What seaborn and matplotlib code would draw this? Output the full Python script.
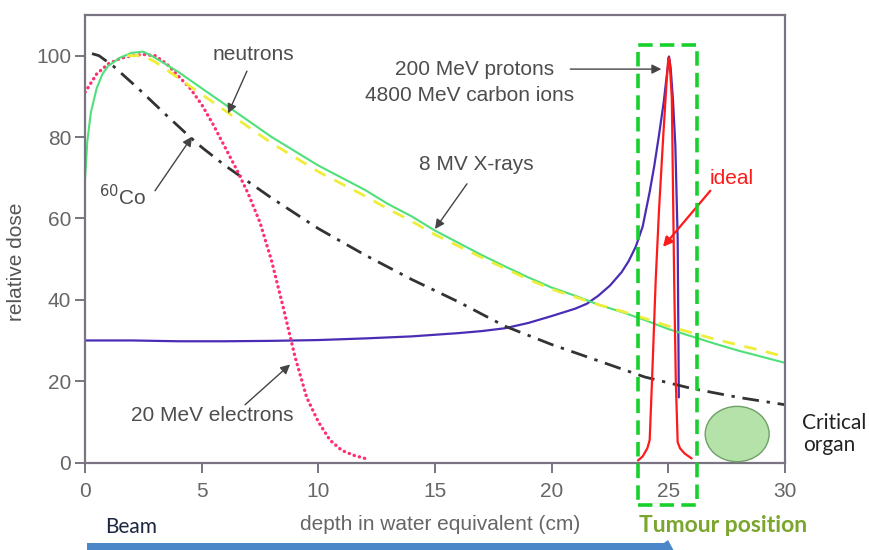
import matplotlib
matplotlib.use("Agg")
import matplotlib.pyplot as plt
import seaborn as sns
import pandas as pd
from matplotlib.patches import Rectangle, Ellipse, Polygon

# ---------------- data ----------------
xray_depth = [0, 0.1, 0.25, 0.5, 0.75, 1, 1.5, 2, 2.5, 3, 4, 5, 6, 7, 8, 9, 10, 11, 12, 13,
              14, 15, 16, 17, 18, 19, 20, 21, 22, 23, 24, 25, 26, 27, 28, 29, 30]
xray_dose = [69.5, 79, 86, 92, 95.5, 97.5, 99.5, 100.7, 101, 99.5, 96, 92, 88, 84, 80, 76.5, 73, 70, 67, 63.5,
             60.5, 57, 54, 51, 48.2, 45.5, 43, 41, 38.8, 37, 35, 32.8, 31, 29.2, 27.5, 26, 24.5]

neutron_depth = [1.8, 2.5, 3, 4, 5, 6, 7, 8, 9, 10, 11, 12, 13, 14, 15, 16, 17, 18, 19, 20,
                 21, 22, 23, 24, 25, 26, 27, 28, 29, 30]
neutron_dose = [100, 100, 98.5, 94.5, 90.5, 86.5, 82.5, 78.5, 75, 71.5, 68.5, 65.5, 62.3, 59.3, 56, 53.2,
                50.4, 47.7, 45, 42.6, 40.7, 38.8, 37.2, 35.4, 33.5, 31.9, 30.3, 28.9, 27.5, 26]

cobalt_depth = [0.3, 0.6, 1.2, 2.27, 3.5, 4.5, 5, 6, 7, 8, 10, 12, 14, 16, 18, 20, 22, 24, 26, 28, 30]
cobalt_dose = [100.5, 100, 97.5, 92, 85.3, 80, 77.5, 73, 69, 65, 57.5, 51, 45, 39.5, 33.5, 29, 25, 21,
               18.2, 16, 14.2]

electron_depth = [0, 0.5, 1, 1.5, 2, 2.5, 3, 3.5, 4, 4.5, 5, 5.5, 6, 6.5, 7, 7.5, 8, 8.5, 9, 9.5,
                  10, 10.5, 11, 11.5, 12]
electron_dose = [91, 95.5, 98, 99.3, 100, 100.3, 100, 98, 95, 92, 88, 83, 77.5, 72, 66, 59, 49.5, 38, 26,
                 16, 10, 5.5, 3, 1.8, 1]

proton_depth = [0, 2, 4, 6, 8, 10, 12, 14, 16, 17, 18, 19, 20, 21, 21.5, 22, 22.5, 23, 23.3, 23.6,
                23.9, 24.2, 24.4, 24.6, 24.8, 24.95, 25.03, 25.1, 25.2, 25.3, 25.4, 25.45]
proton_dose = [30, 30, 29.8, 29.8, 29.9, 30.1, 30.5, 31, 31.8, 32.3, 33, 34.3, 36, 37.8, 39, 41, 43.5,
               46.8, 49.5, 53, 58, 66.5, 73, 80.5, 88.5, 96, 99.8, 97, 89, 78, 55, 16]

ideal_depth = [23.7, 23.9, 24.1, 24.2, 24.3, 24.46, 24.6, 24.79, 24.92, 25.0, 25.05, 25.15, 25.25,
               25.32, 25.4, 25.5, 25.7, 26.0]
ideal_dose = [0.5, 1.5, 3.5, 5.5, 20, 45, 62, 81, 93, 99.5, 99, 89.5, 45, 20, 5, 3.5, 2.2, 1]

x_ticks = [0, 5, 10, 15, 20, 25, 30]
y_ticks = [0, 20, 40, 60, 80, 100]

# ---------------- style ----------------
sns.set_theme(style="white")
plt.rcParams["font.family"] = ["Liberation Sans", "DejaVu Sans"]

W, H = 870, 550
fig = plt.figure(figsize=(W / 100, H / 100), dpi=100)
ax = fig.add_axes([85 / W, 1 - 462.5 / H, 700 / W, 447.5 / H])


def px(xp, yp):
    return xp / W, 1 - yp / H


def curve(xs, ys, **kw):
    df = pd.DataFrame({"depth": xs, "dose": ys})
    sns.lineplot(data=df, x="depth", y="dose", ax=ax, estimator=None, sort=False, **kw)


curve(proton_depth, proton_dose, color="#4b2db5", lw=1.6)
curve(cobalt_depth, cobalt_dose, color="#333333", lw=2.0, linestyle=(0, (6, 2.8, 1.2, 2.8)))
curve(electron_depth, electron_dose, color="#ff3070", lw=2.4, linestyle=(0, (0.1, 1.5)),
      dash_capstyle="round")
curve(xray_depth, xray_dose, color="#4fe07a", lw=1.5)
curve(neutron_depth, neutron_dose, color="#eeee3a", lw=2.0, linestyle=(0, (4.5, 3.5)))
curve(ideal_depth, ideal_dose, color="#ff1a1a", lw=1.6)

ax.set_xlim(0, 30)
ax.set_ylim(0, 110)
ax.set_xticks(x_ticks)
ax.set_yticks(y_ticks)
ax.set_xlabel("")
ax.set_ylabel("")
for s in ax.spines.values():
    s.set_color("#7a7482")
    s.set_linewidth(1.6)
ax.tick_params(axis="both", direction="out", length=7, width=1.4, color="#7a7482",
               labelcolor="#666666", labelsize=15)
ax.tick_params(axis="x", pad=7)
ax.tick_params(axis="y", pad=3)
ax.tick_params(bottom=True, left=True)

# tumour box
ax.add_patch(Rectangle((23.7, -10.5), 2.53, 113.1, fill=False, edgecolor="#18d02c", lw=2.6,
                       linestyle=(0, (4, 2)), clip_on=False, zorder=5))
# critical organ
ax.add_patch(Ellipse((27.95, 7.0), 2.74, 13.6, facecolor="#b4e2a8", edgecolor="#6f9f68", lw=1.0,
                     zorder=4))

tc = "#4d4d4d"
ap = dict(arrowstyle="-|>", color="#444444", lw=1.0, mutation_scale=14, shrinkA=0, shrinkB=0)
ax.text(7.2, 100.4, "neutrons", ha="center", va="center", fontsize=15, color=tc)
ax.annotate("", xy=(6.13, 85.8), xytext=(6.94, 96.2), arrowprops=ap)
ax.text(16.71, 96.7, "200 MeV protons", ha="center", va="center", fontsize=15, color=tc)
ax.text(16.5, 90.2, "4800 MeV carbon ions", ha="center", va="center", fontsize=15, color=tc)
ax.annotate("", xy=(24.7, 96.7), xytext=(20.8, 96.7), arrowprops=ap)
ax.text(16.76, 73.2, "8 MV X-rays", ha="center", va="center", fontsize=15, color=tc)
ax.annotate("", xy=(15.0, 57.4), xytext=(16.37, 68.5), arrowprops=ap)
ax.text(1.63, 65.3, r"$^{60}$Co", ha="center", va="center", fontsize=15, color=tc)
ax.annotate("", xy=(4.59, 80.1), xytext=(3.0, 66.8), arrowprops=ap)
ax.text(5.44, 11.5, "20 MeV electrons", ha="center", va="center", fontsize=15, color=tc)
ax.annotate("", xy=(8.79, 24.1), xytext=(6.86, 14.2), arrowprops=ap)
ax.text(27.7, 69.8, "ideal", ha="center", va="center", fontsize=15, color="#ff1a1a")
apr = dict(ap, color="#ff1a1a", lw=1.6)
ax.annotate("", xy=(24.77, 53.0), xytext=(26.8, 66.8), arrowprops=apr)

# figure-level texts
fig.text(*px(17, 262), "relative dose", rotation=90, ha="center", va="center", fontsize=15,
         color="#555555")
fig.text(*px(440, 524), "depth in water equivalent (cm)", ha="center", va="center", fontsize=15,
         color="#666666")
fig.text(*px(105, 527), "Beam", ha="left", va="center", fontsize=15, color="#1c2640",
         family=["Lato", "DejaVu Sans"])
fig.text(*px(639, 525), "Tumour position", ha="left", va="center", fontsize=16.5,
         fontweight="bold", color="#7aa62e", family=["Lato", "DejaVu Sans"])
fig.text(*px(802, 423), "Critical", ha="left", va="center", fontsize=15, color="#222222",
         family=["Lato", "DejaVu Sans"])
fig.text(*px(803, 445), "organ", ha="left", va="center", fontsize=15, color="#222222",
         family=["Lato", "DejaVu Sans"])

# beam arrow bar at the bottom
pts = [px(87, 551), px(87, 543), px(664, 543), px(668, 540), px(674, 551)]
fig.patches.append(Polygon(pts, closed=True, transform=fig.transFigure, facecolor="#4a86c8",
                           edgecolor="none"))

fig.savefig("out.png", dpi=100)
